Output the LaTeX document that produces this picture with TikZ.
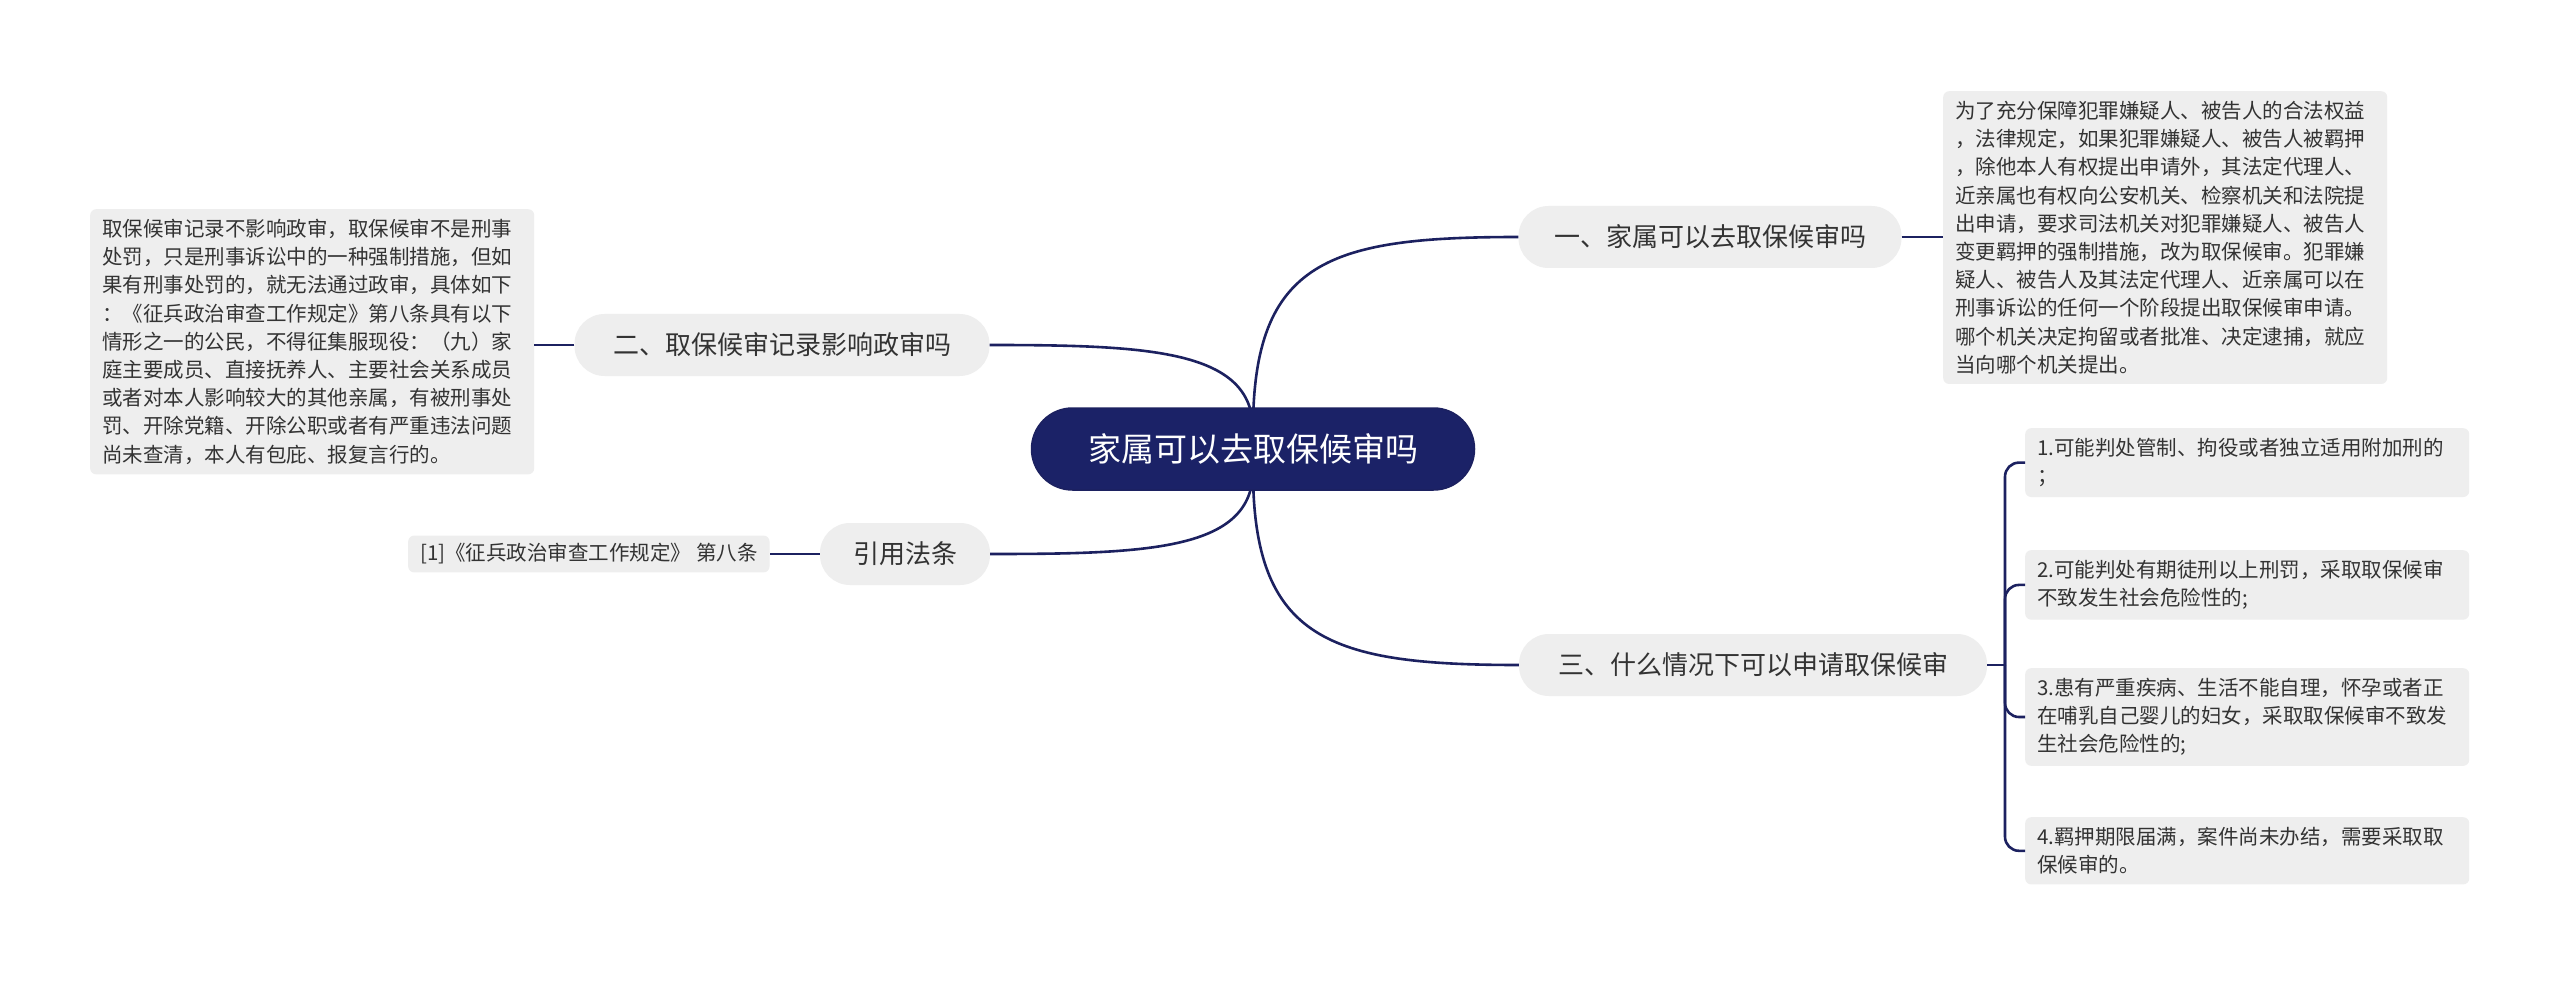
\documentclass[tikz,border=0pt]{standalone}
\usepackage{fontspec}
\setmainfont{Noto Sans CJK SC}
\begin{document}
\begin{tikzpicture}[x=1pt,y=-1pt,
  line/.style={draw=lc,line width=2.6pt},
  topic/.style={fill=gb,rounded corners=30pt,minimum height=62pt,font=\fontsize{26}{30}\selectfont,text=black!80,inner xsep=22pt},
  note/.style={fill=gb,rounded corners=6pt,align=left,font=\fontsize{20.5}{28.2}\selectfont,text=black!80,inner xsep=12pt,inner ysep=10pt,anchor=north west}]
\definecolor{lc}{HTML}{1C2160}
\definecolor{gb}{HTML}{EEEEEE}
\definecolor{navy}{HTML}{1B2267}
\useasboundingbox (0,0) rectangle (2560,984);
\fill[white] (0,0) rectangle (2560,984);
% topics
\node[topic,minimum width=383pt] (b1) at (1710,237) {一、家属可以去取保候审吗};
\node[topic,minimum width=415pt] (b2) at (782,345) {二、取保候审记录影响政审吗};
\node[topic,minimum width=170pt] (b3) at (905,554) {引用法条};
\node[topic,minimum width=468pt] (b4) at (1753,665) {三、什么情况下可以申请取保候审};
% connectors from center
\draw[line] (1253,430) .. controls (1253,260) and (1330,237) .. (b1.west);
\draw[line] (1253,470) .. controls (1253,640) and (1330,665) .. (b4.west);
\draw[line] (1253,430) .. controls (1253,350) and (1150,345) .. (b2.east);
\draw[line] (1253,470) .. controls (1253,550) and (1150,554) .. (b3.east);
\node[fill=navy,draw=lc,line width=1.5pt,rounded corners=41pt,minimum width=443pt,minimum height=82pt,text=white,font=\fontsize{33}{40}\selectfont] (c) at (1253,449) {家属可以去取保候审吗};
% notes
\node[note,text width=420pt] (t1) at (1943,91) {为了充分保障犯罪嫌疑人、被告人的合法权益\\，法律规定，如果犯罪嫌疑人、被告人被羁押\\，除他本人有权提出申请外，其法定代理人、\\近亲属也有权向公安机关、检察机关和法院提\\出申请，要求司法机关对犯罪嫌疑人、被告人\\变更羁押的强制措施，改为取保候审。犯罪嫌\\疑人、被告人及其法定代理人、近亲属可以在\\刑事诉讼的任何一个阶段提出取保候审申请。\\哪个机关决定拘留或者批准、决定逮捕，就应\\当向哪个机关提出。};
\node[note,text width=420pt] (t2) at (90,209) {取保候审记录不影响政审，取保候审不是刑事\\处罚，只是刑事诉讼中的一种强制措施，但如\\果有刑事处罚的，就无法通过政审，具体如下\\：《征兵政治审查工作规定》第八条具有以下\\情形之一的公民，不得征集服现役：（九）家\\庭主要成员、直接抚养人、主要社会关系成员\\或者对本人影响较大的其他亲属，有被刑事处\\罚、开除党籍、开除公职或者有严重违法问题\\尚未查清，本人有包庇、报复言行的。};
\node[note,anchor=west,inner ysep=8pt] (t3) at (408,554) {[1]《征兵政治审查工作规定》 第八条};
\node[note,text width=420pt] (l1) at (2025,428) {1.可能判处管制、拘役或者独立适用附加刑的\\；};
\node[note,text width=420pt] (l2) at (2025,550) {2.可能判处有期徒刑以上刑罚，采取取保候审\\不致发生社会危险性的;};
\node[note,text width=420pt] (l3) at (2025,668) {3.患有严重疾病、生活不能自理，怀孕或者正\\在哺乳自己婴儿的妇女，采取取保候审不致发\\生社会危险性的;};
\node[note,text width=420pt] (l4) at (2025,817) {4.羁押期限届满，案件尚未办结，需要采取取\\保候审的。};
% links
\draw[line] (b1.east) -- (t1.west |- b1.east);
\draw[line] (b2.west) -- (t2.east |- b2.west);
\draw[line] (b3.west) -- (t3.east);
\coordinate (sp) at (2005,665);
\draw[line] (b4.east) -- (sp);
\foreach \n in {l1,l2,l3,l4}{
  \draw[line,rounded corners=14pt] (sp) -- (sp |- \n.west) -- (\n.west);
}
\end{tikzpicture}
\end{document}
